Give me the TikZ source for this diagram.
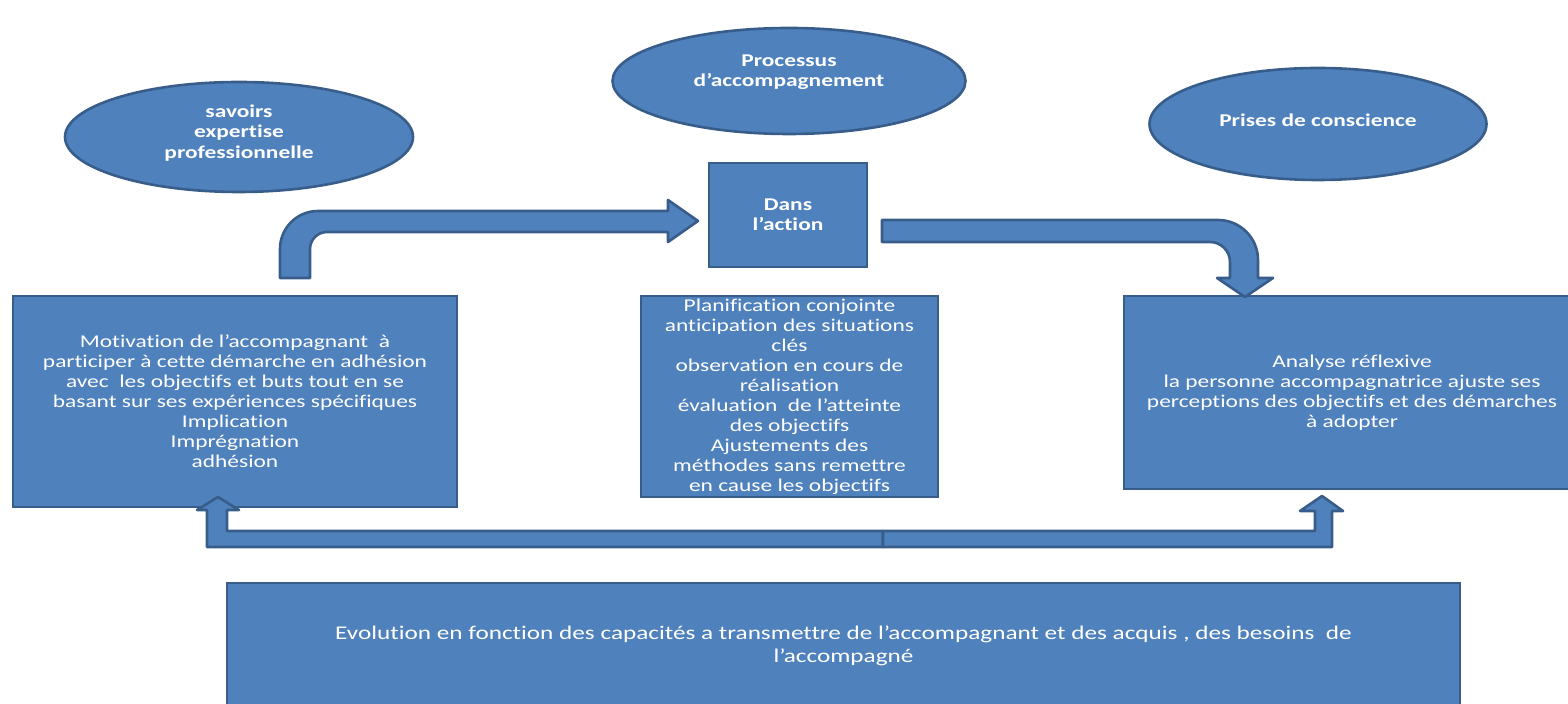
\documentclass[tikz,border=0pt]{standalone}
\usepackage{fontspec}
\setmainfont{Carlito}[FakeStretch=1.3,Ligatures=NoCommon]
\usetikzlibrary{shapes.geometric,positioning}
\definecolor{boxfill}{HTML}{4F81BD}
\definecolor{boxline}{HTML}{385D8A}

\begin{document}
\begin{tikzpicture}[x=0.5pt,y=-0.5pt,line width=1.3pt,
	box node/.style={rectangle,draw=boxline,fill=boxfill,text=white,align=center,
		inner sep=0pt,font=\fontsize{9}{10}\selectfont},
	oval node/.style={ellipse,draw=boxline,fill=boxfill,inner sep=0pt},
	oval text/.style={text=white,align=center,font=\fontsize{9}{10.2}\selectfont\bfseries},
	block arrow/.style={draw=boxline,fill=boxfill,line join=round}]
	
	\useasboundingbox (0,0) rectangle (1568,704);
	
	% ovals
	\node[oval node,minimum width=174pt,minimum height=55pt] (savoirs) at (239,137) {};
	\node[oval text] (savoirs label) at (239,133) {savoirs\\expertise\\professionnelle};
	\node[oval node,minimum width=176.5pt,minimum height=53pt] (processus) at (789,81) {};
	\node[oval text] (processus label) at (789,72) {Processus\\d’accompagnement};
	\node[oval node,minimum width=168.5pt,minimum height=56pt] (prises) at (1318,124) {};
	\node[oval text] (prises label) at (1318,120) {Prises de conscience};
	
	% boxes
	\node[box node,minimum width=79pt,minimum height=52pt,
		font=\fontsize{9}{10.2}\selectfont\bfseries] (action) at (788,215) {Dans\\l’action};
	\node[box node,minimum width=222pt,minimum height=105.5pt] (motivation) at (235,401.5)
		{Motivation de l’accompagnant\ \ à\\participer à cette démarche en adhésion\\
		avec\ \ les objectifs et buts tout en se\\basant sur ses expériences spécifiques\\
		Implication\\Imprégnation\\adhésion};
	\node[box node,minimum width=148.5pt,minimum height=100.5pt] (planif) at (789.5,396.5)
		{Planification conjointe\\anticipation des situations\\clés\\observation en cours de\\
		réalisation\\évaluation\ \ de l’atteinte\\des objectifs\\Ajustements des\\
		méthodes sans remettre\\en cause les objectifs};
	\node[box node,minimum width=228pt,minimum height=96.5pt] (analyse) at (1352,392.5)
		{Analyse réflexive\\la personne accompagnatrice ajuste ses\\
		perceptions des objectifs et des démarches\\à adopter};
	\node[box node,minimum width=616.5pt,minimum height=62.5pt,
		font=\fontsize{9.7}{11.5}\selectfont] (evolution) at (843.5,645.5)
		{Evolution en fonction des capacités a transmettre de l’accompagnant et des acquis , des besoins\ \ de\\
		l’accompagné};
	
	% block arrows
	\draw[block arrow] (280,278) -- (280,249) arc[start angle=180,end angle=270,radius=38]
		-- (668,211) -- (668,200) -- (698,221) -- (668,242) -- (668,232) -- (327,232)
		arc[start angle=270,end angle=180,radius=17] -- (310,278) -- cycle;
	\draw[block arrow] (882,220) -- (1218,220) arc[start angle=270,end angle=360,radius=40]
		-- (1258,278) -- (1273,278) -- (1245,297) -- (1217,278) -- (1230,278) -- (1230,262)
		arc[start angle=0,end angle=-90,radius=20] -- (882,242) -- cycle;
	\draw[block arrow] (883,547) -- (207,547) -- (207,510) -- (197,510) -- (218,497)
		-- (239,510) -- (227,510) -- (227,531) -- (883,531) -- cycle;
	\draw[block arrow] (883,531) -- (1315,531) -- (1315,511) -- (1300,511) -- (1322,496)
		-- (1343,511) -- (1332,511) -- (1332,547) -- (883,547) -- cycle;
	
\end{tikzpicture}
\end{document}
